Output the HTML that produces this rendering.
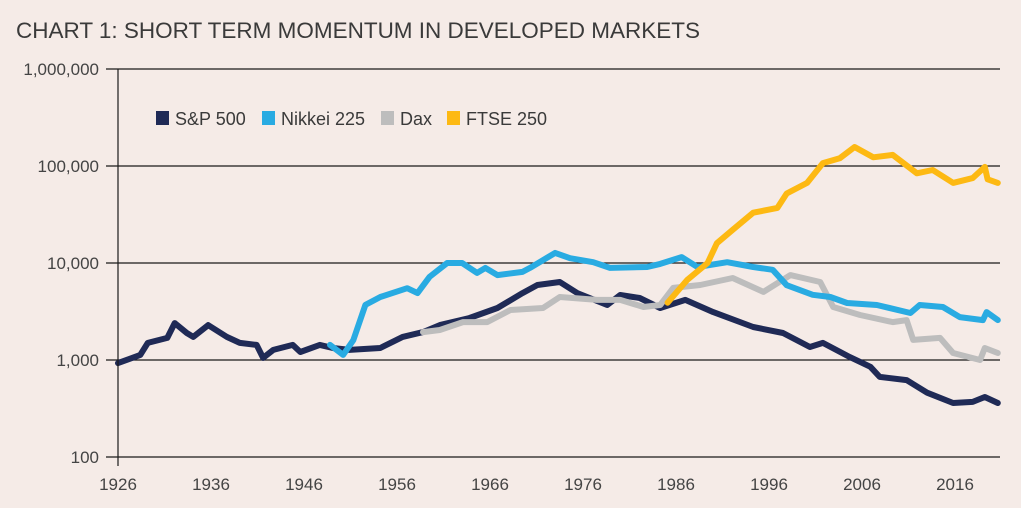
<!DOCTYPE html>
<html><head><meta charset="utf-8"><style>
body{margin:0;background:#f5ebe7;}
svg{display:block;font-family:"Liberation Sans",sans-serif;}
</style></head><body>
<svg id="chart" width="1021" height="508" viewBox="0 0 1021 508">
<rect width="1021" height="508" fill="#f5ebe7"/>
<text x="16" y="38" font-size="22" fill="#3a3a3a" textLength="684" lengthAdjust="spacingAndGlyphs">CHART 1: SHORT TERM MOMENTUM IN DEVELOPED MARKETS</text>
<g id="grid"></g><g id="series"></g><g id="axes"></g>
<g>
<g><rect x="156" y="111" width="13" height="14" fill="#1f2a56"/><text x="175" y="125" font-size="18" fill="#3a3a3a">S&amp;P 500</text></g>
<g><rect x="262" y="111" width="13" height="14" fill="#29abe2"/><text x="281" y="125" font-size="18" fill="#3a3a3a">Nikkei 225</text></g>
<g><rect x="381" y="111" width="13" height="14" fill="#bdbdbd"/><text x="400" y="125" font-size="18" fill="#3a3a3a">Dax</text></g>
<g><rect x="447" y="111" width="13" height="14" fill="#fdb913"/><text x="466" y="125" font-size="18" fill="#3a3a3a">FTSE 250</text></g>
</g>
</svg>
<script>
const yTicks=[100,1000,10000,100000,1000000];
const yTickLabels=["100","1,000","10,000","100,000","1,000,000"];
const xTicks=[1926,1936,1946,1956,1966,1976,1986,1996,2006,2016];
const spYears=[1926,1928.4,1929.2,1931.3,1932.1,1933.4,1934.1,1935.7,1937.7,1939.1,1940.9,1941.6,1942.7,1944.8,1945.6,1947.7,1949.1,1950.9,1954.2,1956.6,1958.8,1960.6,1963.8,1966.8,1969.5,1971.1,1973.5,1975.4,1978.6,1980,1982.1,1984.3,1987,1990,1994.3,1997.5,2000.4,2001.8,2004.7,2006.9,2007.9,2010.8,2013,2015.8,2017.9,2019.2,2020.6];
const spValues=[930,1130,1500,1690,2400,1900,1730,2290,1730,1500,1430,1050,1270,1430,1210,1430,1330,1270,1330,1730,1940,2290,2710,3440,4900,5930,6370,4900,3690,4680,4360,3440,4160,3120,2190,1900,1360,1500,1070,850,670,620,460,360,370,415,360];
const nkYears=[1948.8,1950.2,1951.3,1952.6,1954.2,1957.1,1958.2,1959.5,1961.4,1963,1964.6,1965.5,1966.8,1969.5,1970.3,1973,1974.6,1977.1,1978.9,1982.9,1984.3,1986.6,1988.3,1991.5,1994.3,1996.4,1997.9,2000.7,2002.6,2004.4,2007.6,2011.2,2012.2,2014.7,2016.5,2019,2019.4,2020.6];
const nkValues=[1430,1130,1600,3700,4460,5500,4900,7200,10000,10000,7900,8900,7500,8100,8900,12700,11200,10200,8900,9100,9800,11500,9100,10200,9100,8500,5900,4700,4460,3870,3690,3050,3690,3520,2770,2580,3120,2580];
const dxYears=[1958.8,1960.6,1963.1,1965.7,1968.2,1971.7,1973.5,1977.5,1980,1982.5,1984.3,1985.7,1988.6,1992.1,1995.4,1998.3,2001.5,2002.9,2005.8,2009.3,2010.8,2011.5,2014.4,2015.8,2018.7,2019.2,2020.6];
const dxValues=[1940,2040,2460,2460,3280,3440,4460,4160,4160,3520,3690,5540,5930,7000,5030,7500,6370,3520,2910,2460,2580,1610,1690,1180,1000,1330,1180];
const ftYears=[1985.1,1987.2,1989.4,1990.4,1992.1,1994.3,1996.9,1997.9,2000.1,2001.8,2003.6,2005.2,2007.2,2009.3,2011.9,2013.6,2015.8,2017.9,2019.2,2019.5,2020.6];
const ftValues=[3900,6700,10000,16000,22000,33000,37000,52000,67000,107000,120000,157000,123000,130000,84000,91000,67000,75000,98000,73000,67000];

const NS="http://www.w3.org/2000/svg";
function xS(yr){return 118+(yr-1926)*9.3;}
function yS(v){return 360-(Math.log10(v)-3)*97;}
function mk(tag,attrs,parent){const e=document.createElementNS(NS,tag);for(const k in attrs)e.setAttribute(k,attrs[k]);parent.appendChild(e);return e;}
const grid=document.getElementById('grid'),axes=document.getElementById('axes'),ser=document.getElementById('series');
yTicks.forEach((t,i)=>{
  const l=mk('line',{x1:106,x2:1000,y1:yS(t),y2:yS(t),stroke:'#1a1a1a','stroke-width':1.2},grid);
  
  
  const tx=mk('text',{x:99,y:yS(t)+6,'text-anchor':'end','font-size':17,fill:'#444'},axes);
  tx.textContent=yTickLabels[i];
  
  
});
const ax=mk('line',{x1:118,x2:118,y1:yS(1000000),y2:466,stroke:'#1a1a1a','stroke-width':1.2},axes);


xTicks.forEach(t=>{
  const tx=mk('text',{x:xS(t),y:490,'text-anchor':'middle','font-size':17,fill:'#444'},axes);
  tx.textContent=String(t);
  
  
});
function line(years,vals,color,name){
  const pts=years.map((y,i)=>xS(y).toFixed(1)+','+yS(vals[i]).toFixed(1)).join(' ');
  const p=mk('polyline',{points:pts,fill:'none',stroke:color,'stroke-width':6,'stroke-linejoin':'round','stroke-linecap':'round'},ser);
  
  
}
line(spYears,spValues,'#1f2a56','sp500-line');
line(dxYears,dxValues,'#bdbdbd','dax-line');
line(nkYears,nkValues,'#29abe2','nikkei-line');
line(ftYears,ftValues,'#fdb913','ftse250-line');
</script>
</body></html>
